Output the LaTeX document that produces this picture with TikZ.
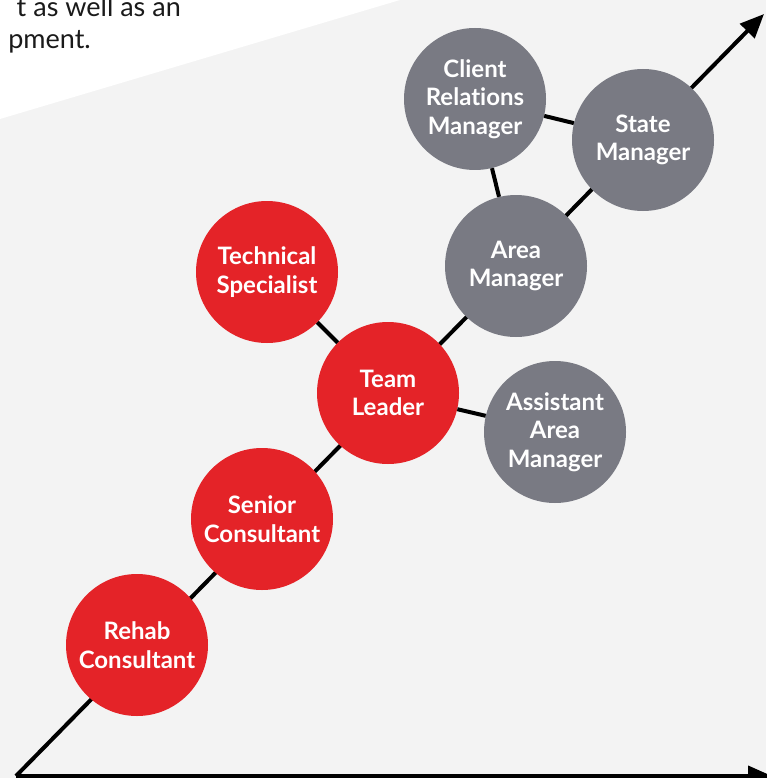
\documentclass[tikz,border=0pt]{standalone}
\usepackage{fontspec}
\setmainfont{Lato}[Ligatures={NoCommon}]
\usetikzlibrary{arrows.meta}
\definecolor{bgray}{HTML}{F3F3F3}
\definecolor{cred}{HTML}{E42328}
\definecolor{cgray}{HTML}{797A83}
\definecolor{ink}{HTML}{1A1A1A}
\tikzset{
  role/.style={circle, minimum size=142pt, inner sep=0pt, text=white,
    font=\bfseries\fontsize{24}{28.5}\selectfont, align=center},
  redrole/.style={role, fill=cred},
  grayrole/.style={role, fill=cgray},
  link/.style={line width=4pt, black},
  axis/.style={line width=4pt, black, -{Triangle[length=24pt,width=20pt]}},
  body/.style={text=ink, font=\fontsize{27}{34}\selectfont, inner sep=0pt}
}
\begin{document}
\begin{tikzpicture}[x=1pt,y=-1pt]
\useasboundingbox (0,0) rectangle (766,778);
\fill[bgray] (0,0) rectangle (766,778);
\fill[white] (0,0) -- (400,0) -- (0,119) -- cycle;
\node[body, anchor=base east] (l1) at (181,16.5) {t as well as an};
\node[body, anchor=base east] (l2) at (91,49) {pment.};
% axes
\coordinate (o) at (16,776);
\coordinate (xt) at (772,776);
\coordinate (yt) at (764,14);
\draw[axis] (o) -- (xt);
\draw[axis] (o) -- (yt);
% roles
\node[redrole] (rehab) at (137,645) {Rehab\\Consultant};
\node[redrole] (senior) at (262,519) {Senior\\Consultant};
\node[redrole] (team) at (388,393) {Team\\Leader};
\node[redrole] (tech) at (267,272) {Technical\\Specialist};
\node[grayrole] (asst) at (555,432) {Assistant\\Area\\Manager};
\node[grayrole] (area) at (516,266) {Area\\Manager};
\node[grayrole] (client) at (475,99) {Client\\Relations\\Manager};
\node[grayrole] (state) at (643,140) {State\\Manager};
% links
\draw[link] (tech) -- (team);
\draw[link] (team) -- (asst);
\draw[link] (client) -- (area);
\draw[link] (client) -- (state);
\end{tikzpicture}
\end{document}
